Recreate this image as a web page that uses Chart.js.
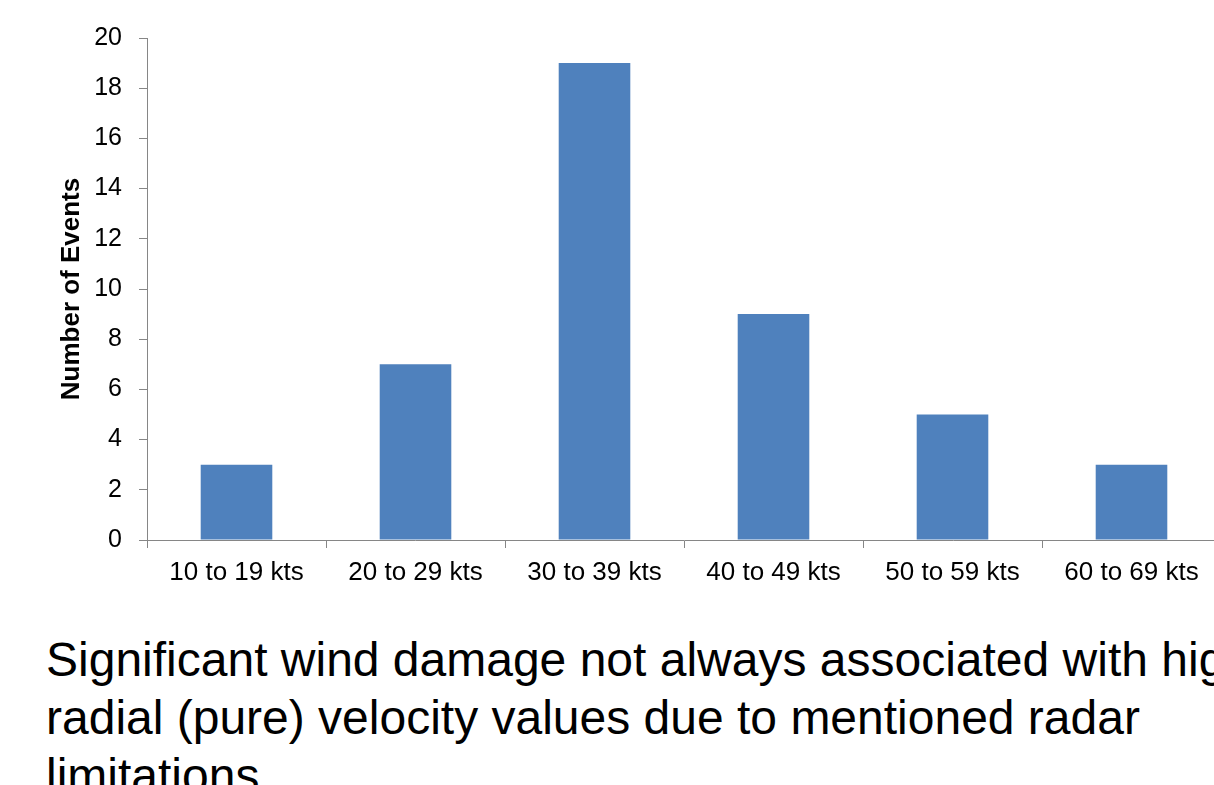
<!DOCTYPE html>
<html>
<head>
<meta charset="utf-8">
<script src="https://cdn.jsdelivr.net/npm/chart.js@4/dist/chart.umd.min.js"></script>
<style>
  html, body { margin: 0; padding: 0; background: #fff; overflow: hidden; width: 1214px; height: 785px; }
  #wrap { position: absolute; left: 0; top: 0; width: 1240px; height: 600px; }
  #note {
    position: absolute; left: 46px; top: 631px;
    font-family: "Liberation Sans", Arial, sans-serif; font-size: 48px; line-height: 58px;
    color: #000; white-space: nowrap;
  }
</style>
</head>
<body>
<div id="wrap"><canvas id="c" width="1240" height="600"></canvas></div>
<div id="note">Significant wind damage not always associated with high<br>radial (pure) velocity values due to mentioned radar<br>limitations.</div>
<script>
// Wind speed bins and how many damage events fell in each
const categories = ['10 to 19 kts', '20 to 29 kts', '30 to 39 kts', '40 to 49 kts', '50 to 59 kts', '60 to 69 kts'];
const eventCounts = [3, 7, 19, 9, 5, 3];
const yTitle = 'Number of Events';

const axisGray = '#868686';
const font = "'Liberation Sans', Arial, sans-serif";

new Chart(document.getElementById('c'), {
  type: 'bar',
  data: {
    labels: categories,
    datasets: [{
      data: eventCounts,
      backgroundColor: '#4F81BD',
      borderWidth: 0,
      categoryPercentage: 1.0,
      barPercentage: 0.4
    }]
  },
  options: {
    responsive: false,
    animation: false,
    devicePixelRatio: 1,
    layout: { padding: { top: 38, right: 19, bottom: 0, left: 0 } },
    plugins: { legend: { display: false }, tooltip: { enabled: false }, title: { display: false } },
    scales: {
      x: {
        grid: { display: true, drawOnChartArea: false, drawTicks: true, tickLength: 8, color: axisGray, lineWidth: 1, offset: true },
        border: { display: true, color: axisGray, width: 1 },
        ticks: { color: '#000', font: { family: font, size: 26 }, padding: 9, maxRotation: 0, autoSkip: false },
        afterFit: s => { s.height = 60; }
      },
      y: {
        min: 0, max: 20,
        grid: { display: true, drawOnChartArea: false, drawTicks: true, tickLength: 8, color: axisGray, lineWidth: 1 },
        border: { display: true, color: axisGray, width: 1 },
        ticks: { stepSize: 2, color: '#000', font: { family: font, size: 25 }, padding: 17 },
        title: { display: true, text: yTitle, color: '#000', font: { family: font, size: 26, weight: 'bold' }, padding: { top: 56, bottom: 0 } },
        afterFit: s => { s.width = 147; }
      }
    }
  }
});
</script>
</body>
</html>
